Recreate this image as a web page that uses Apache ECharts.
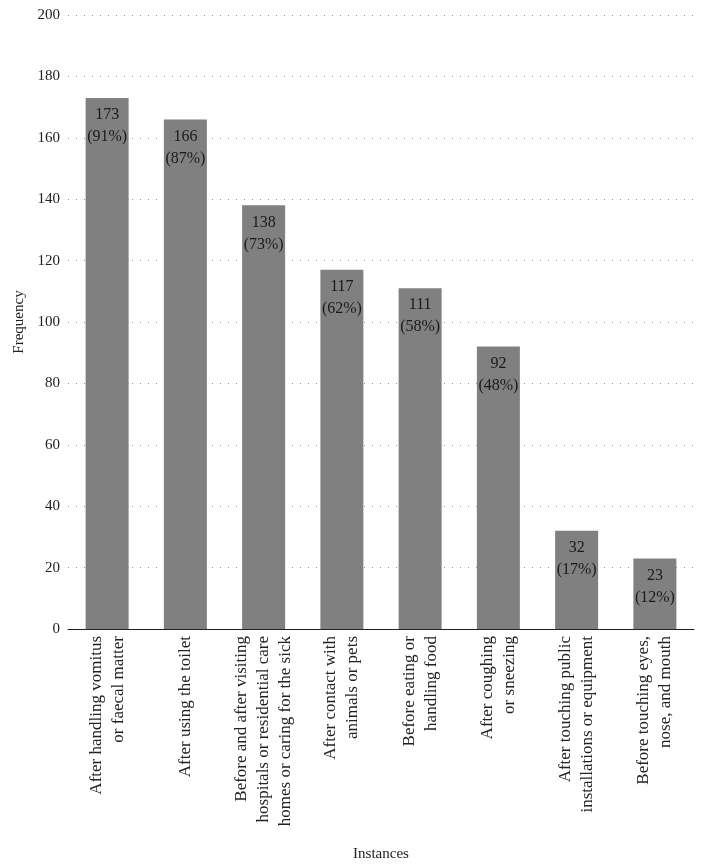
<!DOCTYPE html>
<html>
<head>
<meta charset="utf-8">
<script src="https://cdn.jsdelivr.net/npm/echarts@6/dist/echarts.min.js"></script>
<style>html,body{margin:0;padding:0;background:#fff;}#c{width:704px;height:867px;}</style>
</head>
<body>
<div id="c"></div>
<script>
const categories = [
  "After handling vomitus\nor faecal matter",
  "After using the toilet",
  "Before and after visiting\nhospitals or residential care\nhomes or caring for the sick",
  "After contact with\nanimals or pets",
  "Before eating or\nhandling food",
  "After coughing\nor sneezing",
  "After touching public\ninstallations or equipment",
  "Before touching eyes,\nnose, and mouth"
];
const values = [173, 166, 138, 117, 111, 92, 32, 23];
const percents = ["91%", "87%", "73%", "62%", "58%", "48%", "17%", "12%"];
const yTicks = [0, 20, 40, 60, 80, 100, 120, 140, 160, 180, 200];

const FONT = "Liberation Serif";
const chart = echarts.init(document.getElementById('c'), null, {renderer: 'canvas'});
chart.setOption({
  animation: false,
  textStyle: {fontFamily: FONT},
  grid: {left: 68, right: 10, top: 15, bottom: 233, containLabel: false},
  xAxis: {
    type: 'category',
    data: categories,
    name: 'Instances',
    nameLocation: 'middle',
    nameGap: 218,
    nameTextStyle: {fontFamily: FONT, fontSize: 15, color: '#222'},
    axisLine: {show: true, lineStyle: {color: '#222', width: 1}},
    axisTick: {show: false},
    axisLabel: {
      interval: 0, rotate: 90, margin: 7,
      fontFamily: FONT, fontSize: 17, color: '#222', lineHeight: 22, align: 'right'
    },
    splitLine: {show: false}
  },
  yAxis: {
    type: 'value',
    min: yTicks[0], max: yTicks[yTicks.length - 1], interval: 20,
    name: 'Frequency',
    nameLocation: 'middle',
    nameGap: 40,
    nameRotate: 90,
    nameTextStyle: {fontFamily: FONT, fontSize: 15, color: '#222'},
    axisLine: {show: false},
    axisTick: {show: false},
    axisLabel: {margin: 8, fontFamily: FONT, fontSize: 15, color: '#222'},
    splitLine: {show: true, lineStyle: {color: '#999', width: 1, type: [1, 7]}}
  },
  series: [{
    type: 'bar',
    data: values,
    barWidth: 43,
    itemStyle: {color: '#808080'},
    label: {
      show: true,
      position: 'insideTop',
      distance: 6,
      fontFamily: FONT, fontSize: 16, color: '#1a1a1a', lineHeight: 22,
      formatter: p => p.value + "\n(" + percents[p.dataIndex] + ")"
    }
  }]
});
</script>
</body>
</html>
